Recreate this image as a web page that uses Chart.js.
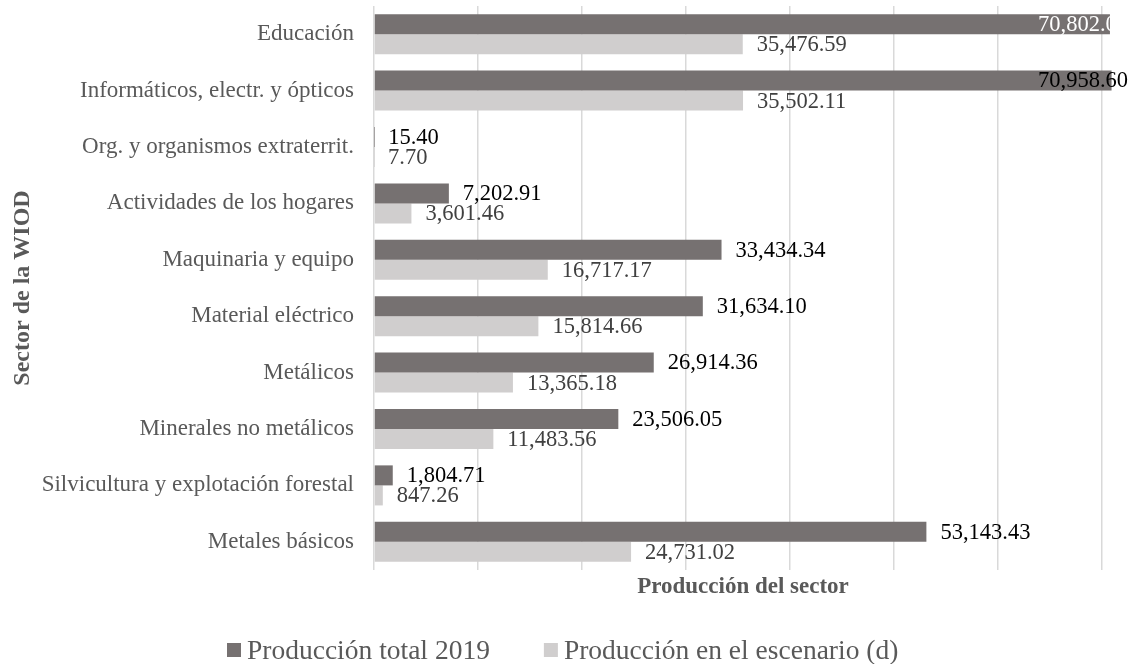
<!DOCTYPE html>
<html>
<head>
<meta charset="utf-8">
<script src="https://cdn.jsdelivr.net/npm/chart.js@4.4.1/dist/chart.umd.min.js"></script>
<style>
  html, body { margin: 0; padding: 0; background: #fff; }
  #wrap { width: 1137px; height: 664px; }
</style>
</head>
<body>
<div id="wrap"><canvas id="barChart"></canvas></div>
<script>
const sectors = [
  'Educación',
  'Informáticos, electr. y ópticos',
  'Org. y organismos extraterrit.',
  'Actividades de los hogares',
  'Maquinaria y equipo',
  'Material eléctrico',
  'Metálicos',
  'Minerales no metálicos',
  'Silvicultura y explotación forestal',
  'Metales básicos'
];
const total2019 = [70802.00, 70958.60, 15.40, 7202.91, 33434.34, 31634.10, 26914.36, 23506.05, 1804.71, 53143.43];
const escenarioD = [35476.59, 35502.11, 7.70, 3601.46, 16717.17, 15814.66, 13365.18, 11483.56, 847.26, 24731.02];
const seriesNames = ['Producción total 2019', 'Producción en el escenario (d)'];
const gridValues = [0, 10000, 20000, 30000, 40000, 50000, 60000, 70000];

const serif = "'Liberation Serif', 'Times New Roman', serif";

function fmt(v) {
  return v.toLocaleString('en-US', { minimumFractionDigits: 2, maximumFractionDigits: 2 });
}

// value labels next to the bars, like the Excel data labels
const barLabels = {
  id: 'barLabels',
  afterDatasetsDraw(chart) {
    const ctx = chart.ctx;
    const area = chart.chartArea;
    ctx.save();
    ctx.font = '22.5px ' + serif;
    ctx.textBaseline = 'middle';
    chart.data.datasets.forEach((ds, i) => {
      const meta = chart.getDatasetMeta(i);
      meta.data.forEach((bar, j) => {
        let x = bar.x + 14;
        const maxX = area.right - 74;
        let color = i === 0 ? '#000' : '#404040';
        let clip = false;
        if (x > maxX) {
          x = maxX;
          // first one sits inside the bar in white and gets cut at the edge
          if (j === 0) { color = '#fff'; clip = true; }
        }
        ctx.save();
        if (clip) {
          ctx.beginPath();
          ctx.rect(area.left, area.top, bar.x - area.left, area.bottom - area.top);
          ctx.clip();
        }
        ctx.fillStyle = color;
        ctx.fillText(fmt(ds.data[j]), x, bar.y + 1);
        ctx.restore();
      });
    });
    ctx.restore();
  }
};

// legend drawn by hand: Excel puts it left of centre with a small box gap
const bottomLegend = {
  id: 'bottomLegend',
  afterDraw(chart) {
    const ctx = chart.ctx;
    ctx.save();
    ctx.font = '27.5px ' + serif;
    ctx.textBaseline = 'alphabetic';
    let x = 227;
    const baseY = 659;
    chart.data.datasets.forEach(ds => {
      ctx.fillStyle = ds.backgroundColor;
      ctx.fillRect(x, 643, 14, 14);
      ctx.fillStyle = '#595959';
      ctx.fillText(ds.label, x + 20, baseY);
      x += 20 + ctx.measureText(ds.label).width + 54;
    });
    ctx.restore();
  }
};

document.addEventListener('DOMContentLoaded', function () {
  const ctx = document.getElementById('barChart').getContext('2d');

  new Chart(ctx, {
    type: 'bar',
    data: {
      labels: sectors,
      datasets: [
        {
          label: seriesNames[0],
          data: total2019,
          backgroundColor: '#767171',
          categoryPercentage: 0.71,
          barPercentage: 1.0
        },
        {
          label: seriesNames[1],
          data: escenarioD,
          backgroundColor: '#d0cece',
          categoryPercentage: 0.71,
          barPercentage: 1.0
        }
      ]
    },
    options: {
      indexAxis: 'y',
      responsive: true,
      maintainAspectRatio: false,
      animation: false,
      layout: {
        padding: { top: 6, right: 25, left: 0, bottom: 45 }
      },
      plugins: {
        tooltip: { enabled: false },
        legend: { display: false }
      },
      scales: {
        x: {
          min: 0,
          max: 71000,
          afterBuildTicks: function (scale) {
            scale.ticks = gridValues.map(v => ({ value: v }));
          },
          ticks: {
            display: true,
            autoSkip: false,
            color: 'rgba(0,0,0,0)',
            callback: () => ''
          },
          grid: {
            color: '#d9d9d9',
            lineWidth: 1.5,
            drawTicks: false
          },
          border: { display: false },
          title: {
            display: true,
            text: 'Producción del sector',
            color: '#595959',
            font: { family: serif, size: 23, weight: 'bold' },
            padding: { top: 0, bottom: 18 }
          },
          afterFit: function (scale) {
            scale.height = 49;
            scale.paddingLeft = 0;
            scale.paddingRight = 0;
          }
        },
        y: {
          grid: { display: false, drawTicks: false },
          border: { display: false },
          ticks: {
            color: '#595959',
            font: { family: serif, size: 23 },
            padding: 20
          },
          title: {
            display: true,
            text: 'Sector de la WIOD',
            color: '#595959',
            font: { family: serif, size: 24, weight: 'bold' },
            padding: { top: 8, bottom: 0 }
          },
          afterFit: function (scale) {
            scale.width = 374;
            scale.paddingTop = 0;
            scale.paddingBottom = 0;
          }
        }
      }
    },
    plugins: [barLabels, bottomLegend]
  });
});
</script>
</body>
</html>
